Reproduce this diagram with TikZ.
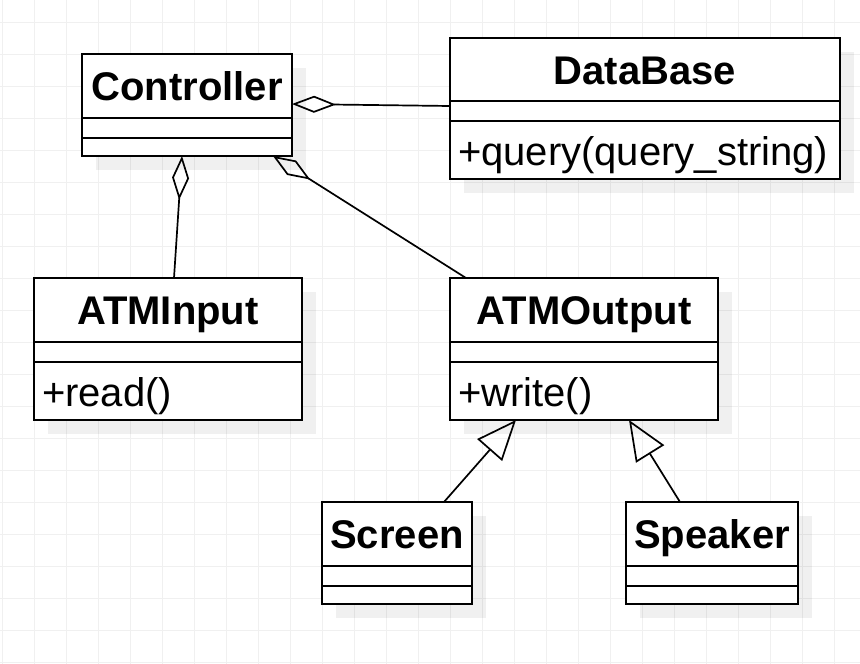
\documentclass[tikz,border=0pt]{standalone}
\usepackage{fontspec}
\setmainfont{Liberation Sans}
\usetikzlibrary{positioning,arrows.meta,shadows}

\tikzset{
  cls/.style={draw, line width=2.2pt, fill=white, outer sep=0pt, inner sep=0pt,
    drop shadow={shadow xshift=14pt, shadow yshift=-14pt, fill=black, opacity=0.06, draw=none}},
  hdr/.style={cls, anchor=north west, minimum height=64pt,
    font=\bfseries\fontsize{40}{45}\selectfont, text height=29pt, text depth=0pt},
  attr/.style={cls, minimum height=20pt},
  ops/.style={cls, minimum height=58pt, align=left, inner xsep=8pt,
    font=\fontsize{40}{45}\selectfont, text height=30pt, text depth=0pt},
  agg/.style={line width=1.7pt, {Diamond[open, length=44pt, width=17pt]}-},
  gen/.style={line width=1.7pt, -{Triangle[open, length=40pt, width=33pt]}},
  gridline/.style={black!6, line width=1pt}
}

\begin{document}
\begin{tikzpicture}[x=1pt,y=-1pt]
  \useasboundingbox (0,0) rectangle (860,664);
  % grid
  \foreach \gx in {0,...,26}
    \draw[gridline] ({2.7+32*\gx},0) -- ({2.7+32*\gx},664);
  \foreach \gy in {0,...,20}
    \draw[gridline] (0,{22.7+32*\gy}) -- (860,{22.7+32*\gy});

  % classes
  \node[hdr, minimum width=210pt] (ctrl) at (82,54) {Controller};
  \node[attr, minimum width=210pt, below=0pt of ctrl] (ctrl-attr) {};
  \node[attr, minimum width=210pt, minimum height=18pt, below=0pt of ctrl-attr] (ctrl-ops) {};

  \node[hdr, minimum width=390pt, minimum height=63pt] (db) at (450,38) {DataBase};
  \node[attr, minimum width=390pt, below=0pt of db] (db-attr) {};
  \node[ops, text width=374pt, below=0pt of db-attr] (db-ops) {+query(query\_string)};

  \node[hdr, minimum width=268pt] (inp) at (34,278) {ATMInput};
  \node[attr, minimum width=268pt, below=0pt of inp] (inp-attr) {};
  \node[ops, text width=252pt, below=0pt of inp-attr] (inp-ops) {+read()};

  \node[hdr, minimum width=268pt] (out) at (450,278) {ATMOutput};
  \node[attr, minimum width=268pt, below=0pt of out] (out-attr) {};
  \node[ops, text width=252pt, below=0pt of out-attr] (out-ops) {+write()};

  \node[hdr, minimum width=150pt] (scr) at (322,502) {Screen};
  \node[attr, minimum width=150pt, below=0pt of scr] (scr-attr) {};
  \node[attr, minimum width=150pt, minimum height=18pt, below=0pt of scr-attr] (scr-ops) {};

  \node[hdr, minimum width=172pt] (spk) at (626,502) {Speaker};
  \node[attr, minimum width=172pt, below=0pt of spk] (spk-attr) {};
  \node[attr, minimum width=172pt, minimum height=18pt, below=0pt of spk-attr] (spk-ops) {};

  % relations
  \path
    ([yshift=-18pt]ctrl.east) edge[agg] ([yshift=5pt]db-attr.west)
    ([xshift=-5pt]ctrl-ops.south) edge[agg] ([xshift=6pt]inp.north)
    ([xshift=-19pt]ctrl-ops.south east) edge[agg] ([xshift=16pt]out.north west)
    ([xshift=47pt]scr.north) edge[gen] ([xshift=66pt]out-ops.south west)
    ([xshift=-32pt]spk.north) edge[gen] ([xshift=179pt]out-ops.south west);
\end{tikzpicture}
\end{document}
